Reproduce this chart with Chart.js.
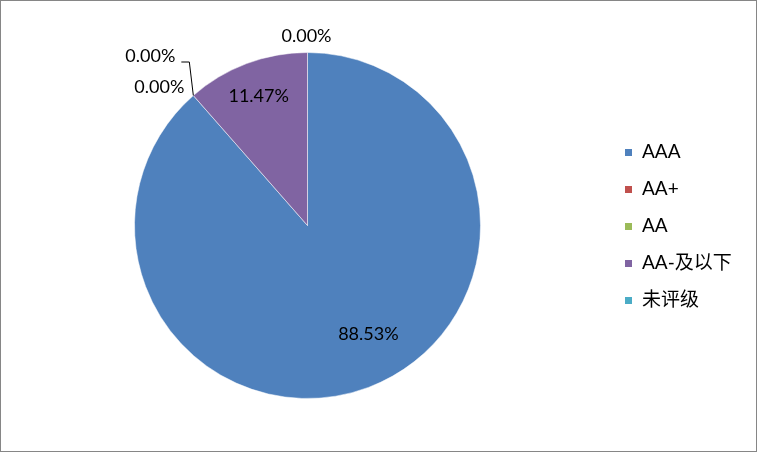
<!DOCTYPE html>
<html>
<head>
<meta charset="utf-8">
<script src="https://cdn.jsdelivr.net/npm/chart.js@4"></script>
<style>
  html, body { margin: 0; padding: 0; background: #fff; }
  #wrap { position: relative; width: 755px; height: 450px; border: 1px solid #868686; }
  canvas { display: block; }
</style>
</head>
<body>
<div id="wrap"><canvas id="chart-rating" width="755" height="450"></canvas></div>
<script>
// ── DATA ────────────────────────────────────────────────────────────────────
const ratings = ['AAA', 'AA+', 'AA', 'AA-及以下', '未评级'];
const shares = [88.53, 0, 0, 11.47, 0];
const sliceColors = ['#4F81BD', '#C0504D', '#9BBB59', '#8064A2', '#4BACC6'];

// label placement per slice: inside (fraction of radius) or outside offsets
const labelPlace = [
  { inside: 0.72, angleShift: -0.15 },
  { outside: true, dx: -43, dy: -39, leader: true },
  { outside: true, dx: -34, dy: -8 },
  { inside: 0.80, angleShift: 0 },
  { outside: true, dx: -1, dy: -16 }
];

const FONT = '18px Lato, "Noto Sans CJK SC", sans-serif';
const LEGEND_FONT = '19px Lato, "Noto Sans CJK SC", sans-serif';

const pieLabels = {
  id: 'pieLabels',
  afterDatasetsDraw(chart) {
    const ctx = chart.ctx;
    const meta = chart.getDatasetMeta(0);
    ctx.save();
    ctx.font = FONT;
    ctx.fillStyle = '#000';
    ctx.textAlign = 'center';
    ctx.textBaseline = 'middle';
    meta.data.forEach((arc, i) => {
      const { x, y, startAngle, endAngle, outerRadius } = arc.getProps(['x', 'y', 'startAngle', 'endAngle', 'outerRadius'], true);
      const p = labelPlace[i];
      const txt = shares[i].toFixed(2) + '%';
      if (p.inside) {
        const a = (startAngle + endAngle) / 2 + p.angleShift;
        ctx.fillText(txt, x + Math.cos(a) * outerRadius * p.inside, y + Math.sin(a) * outerRadius * p.inside);
      } else {
        const ex = x + Math.cos(startAngle) * outerRadius;
        const ey = y + Math.sin(startAngle) * outerRadius;
        const lx = ex + p.dx, ly = ey + p.dy;
        ctx.fillText(txt, lx, ly);
        if (p.leader) {
          ctx.strokeStyle = '#000';
          ctx.lineWidth = 1;
          ctx.beginPath();
          ctx.moveTo(ex, ey);
          ctx.lineTo(ex - 4, ly + 5.5);
          ctx.lineTo(ex - 12, ly + 5.5);
          ctx.stroke();
        }
      }
    });
    ctx.restore();
  }
};

const sideLegend = {
  id: 'sideLegend',
  afterDraw(chart) {
    const ctx = chart.ctx;
    const rowY = [151, 188, 225, 262, 299];
    ctx.save();
    ctx.font = LEGEND_FONT;
    ctx.textAlign = 'left';
    ctx.textBaseline = 'middle';
    ratings.forEach((r, i) => {
      ctx.fillStyle = sliceColors[i];
      ctx.fillRect(624, rowY[i] - 3, 7, 7);
      ctx.fillStyle = '#000';
      ctx.fillText(r, 641, rowY[i]);
    });
    ctx.restore();
  }
};

new Chart(document.getElementById('chart-rating').getContext('2d'), {
  type: 'pie',
  data: {
    labels: ratings,
    datasets: [{
      data: shares,
      backgroundColor: sliceColors,
      borderColor: 'rgba(255,255,255,0.5)',
      borderWidth: 1
    }]
  },
  options: {
    responsive: false,
    animation: false,
    layout: { padding: { left: 133, right: 275, top: 51, bottom: 52 } },
    plugins: { legend: { display: false }, tooltip: { enabled: false } }
  },
  plugins: [pieLabels, sideLegend]
});
</script>
</body>
</html>
